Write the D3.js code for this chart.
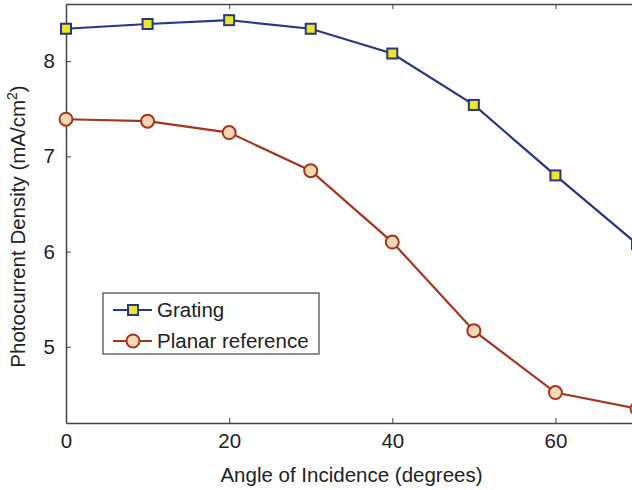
<!DOCTYPE html>
<html>
<head>
<meta charset="utf-8">
<script src="https://cdn.jsdelivr.net/npm/d3@7"></script>
<style>
  body { margin: 0; background: #fff; }
  svg { display: block; font-family: "Liberation Sans", Arial, sans-serif; }
</style>
</head>
<body>
<div id="chart"></div>
<script>
const angles = [0, 10, 20, 30, 40, 50, 60, 70];
const grating = [8.34, 8.39, 8.43, 8.34, 8.08, 7.54, 6.80, 6.08];
const planar = [7.39, 7.37, 7.25, 6.85, 6.10, 5.17, 4.52, 4.35];
const xTicks = [0, 20, 40, 60];
const yTicks = [5, 6, 7, 8];

const W = 632, H = 490;
const margin = { top: 4, right: -5, bottom: 67, left: 66 };
const width = W - margin.left - margin.right;
const height = H - margin.top - margin.bottom;
const fontSize = "20.5px";

const svg = d3.select("#chart").append("svg")
  .attr("width", W)
  .attr("height", H);

const g = svg.append("g")
  .attr("transform", `translate(${margin.left},${margin.top})`);

const x = d3.scaleLinear().domain([0, 70]).range([0, width]);
const y = d3.scaleLinear().domain([4.2, 8.6]).range([height, 0]);

const axisColor = "#444";
const fmt = d3.format("d");

// axes (ticks pointing inward, mirrored on top/right)
const styleAxis = sel => {
  sel.attr("font-size", null).attr("font-family", null);
  sel.select(".domain").attr("stroke", axisColor).attr("stroke-width", 1.5);
  sel.selectAll(".tick line").attr("stroke", axisColor);
  sel.selectAll(".tick text").attr("fill", "#222").style("font-size", fontSize);
};

g.append("g")
  .attr("transform", `translate(0,${height})`)
  .call(d3.axisBottom(x).tickValues(xTicks).tickSizeInner(-5).tickSizeOuter(0).tickPadding(10).tickFormat(fmt))
  .call(styleAxis);

g.append("g")
  .call(d3.axisTop(x).tickValues(xTicks).tickSizeInner(-5).tickSizeOuter(0).tickFormat(""))
  .call(styleAxis);

g.append("g")
  .call(d3.axisLeft(y).tickValues(yTicks).tickSizeInner(-5).tickSizeOuter(0).tickPadding(11).tickFormat(fmt))
  .call(styleAxis);

g.append("g")
  .attr("transform", `translate(${width},0)`)
  .call(d3.axisRight(y).tickValues(yTicks).tickSizeInner(-5).tickSizeOuter(0).tickFormat(""))
  .call(styleAxis);

// axis titles
svg.append("text")
  .attr("x", margin.left + x(35))
  .attr("y", 482)
  .attr("text-anchor", "middle")
  .attr("fill", "#222")
  .style("font-size", fontSize)
  .text("Angle of Incidence (degrees)");

const yt = svg.append("text")
  .attr("transform", `translate(25,${margin.top + height / 2 + 13}) rotate(-90)`)
  .attr("text-anchor", "middle")
  .attr("fill", "#222")
  .style("font-size", fontSize);
yt.append("tspan").text("Photocurrent Density (mA/cm");
yt.append("tspan").attr("dy", -8).style("font-size", "14px").text("2");
yt.append("tspan").attr("dy", 8).text(")");

// series
const blue = "#26378a", blueFill = "#ece81a";
const red = "#a5361c", redFill = "#f6d7b3";

const line = d3.line().x((d, i) => x(angles[i])).y(d => y(d));

g.append("path").datum(planar)
  .attr("d", line).attr("fill", "none").attr("stroke", red).attr("stroke-width", 2.2);
g.selectAll("circle.planar").data(planar).enter().append("circle")
  .attr("class", "planar")
  .attr("cx", (d, i) => x(angles[i])).attr("cy", d => y(d))
  .attr("r", 6.5)
  .attr("fill", redFill).attr("stroke", red).attr("stroke-width", 2);

g.append("path").datum(grating)
  .attr("d", line).attr("fill", "none").attr("stroke", blue).attr("stroke-width", 2.2);
g.selectAll("rect.grating").data(grating).enter().append("rect")
  .attr("class", "grating")
  .attr("x", (d, i) => x(angles[i]) - 5).attr("y", d => y(d) - 5)
  .attr("width", 10).attr("height", 10)
  .attr("fill", blueFill).attr("stroke", blue).attr("stroke-width", 2);

// legend
const lg = svg.append("g").attr("transform", "translate(103,293)");
lg.append("rect").attr("width", 216).attr("height", 61)
  .attr("fill", "#fff").attr("stroke", axisColor).attr("stroke-width", 1.2);

const items = [
  { name: "Grating", color: blue, fill: blueFill, shape: "square" },
  { name: "Planar reference", color: red, fill: redFill, shape: "circle" }
];
items.forEach((it, i) => {
  const cy = 17 + i * 31;
  lg.append("line").attr("x1", 10).attr("x2", 49).attr("y1", cy).attr("y2", cy)
    .attr("stroke", it.color).attr("stroke-width", 2.2);
  if (it.shape === "square") {
    lg.append("rect").attr("x", 25).attr("y", cy - 5).attr("width", 10).attr("height", 10)
      .attr("fill", it.fill).attr("stroke", it.color).attr("stroke-width", 2);
  } else {
    lg.append("circle").attr("cx", 30).attr("cy", cy).attr("r", 6.5)
      .attr("fill", it.fill).attr("stroke", it.color).attr("stroke-width", 2);
  }
  lg.append("text").attr("x", 54).attr("y", cy + 7)
    .attr("fill", "#222").style("font-size", fontSize).text(it.name);
});
</script>
</body>
</html>
